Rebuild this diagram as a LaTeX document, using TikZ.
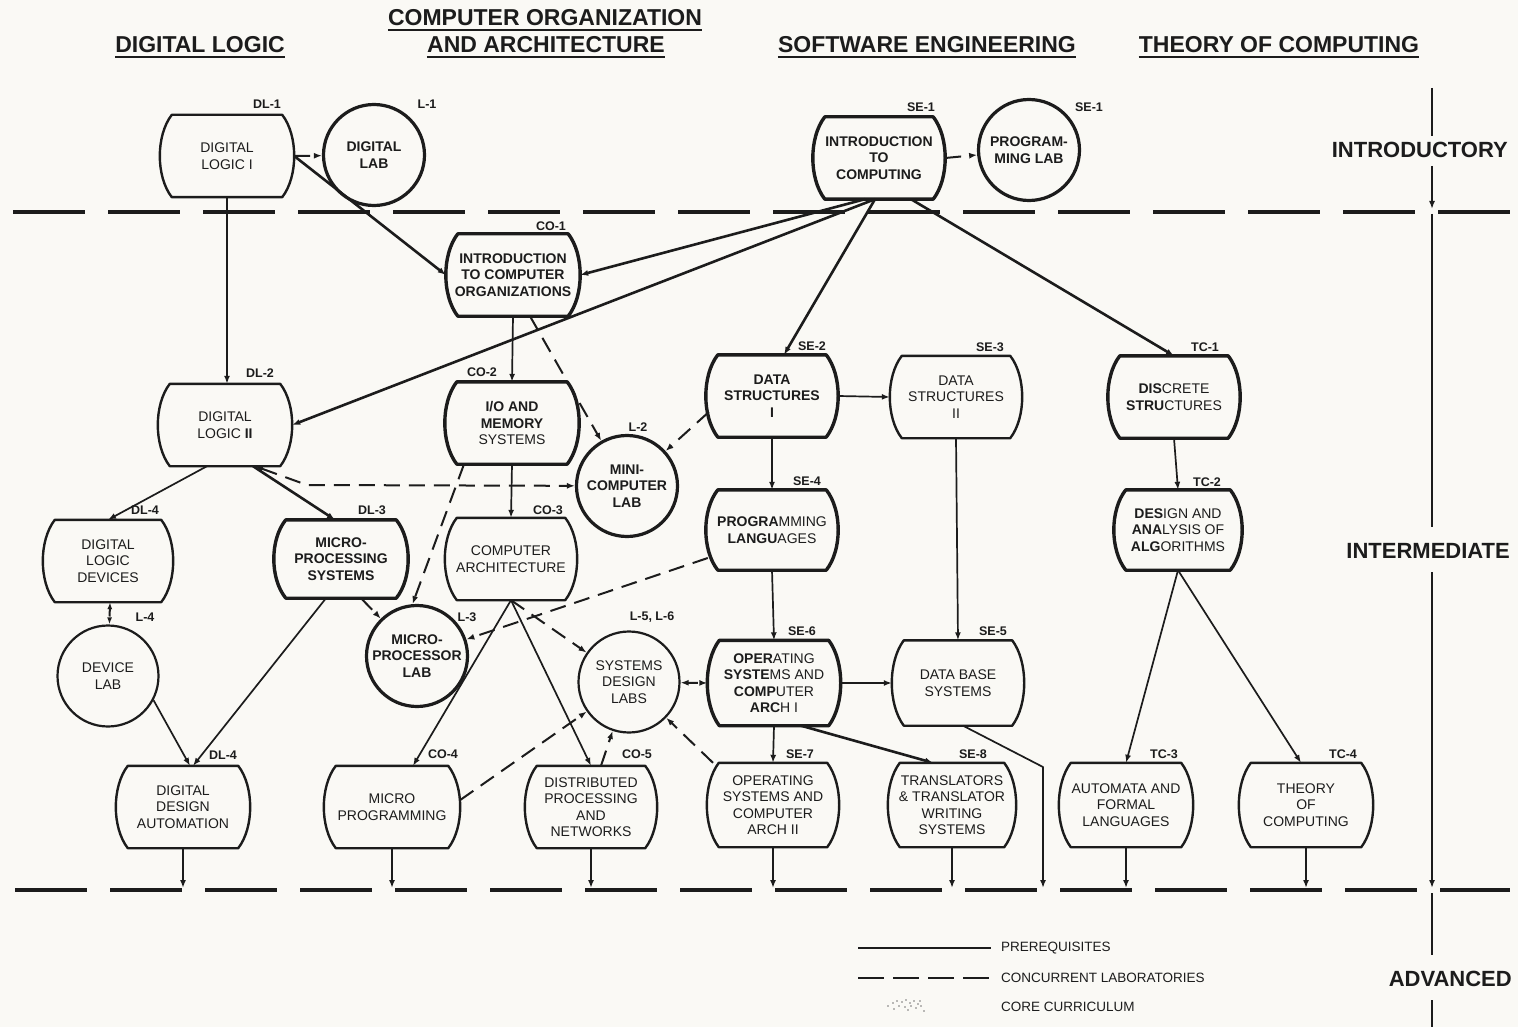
\documentclass[tikz,border=0pt]{standalone}
\usepackage{fontspec}
\setmainfont{Liberation Sans}
\usetikzlibrary{calc,arrows.meta}
\definecolor{ink}{RGB}{28,28,28}
\definecolor{paper}{RGB}{250,249,245}
\newcommand\barrelpath[1]{%
  ($(#1.north west)+(12,0)$) -- ($(#1.north east)+(-12,0)$)
  .. controls ($(#1.north east)!0.25!(#1.south east)+(4,0)$) and ($(#1.north east)!0.75!(#1.south east)+(4,0)$) .. ($(#1.south east)+(-12,0)$)
  -- ($(#1.south west)+(12,0)$)
  .. controls ($(#1.south west)!0.25!(#1.north west)+(-4,0)$) and ($(#1.south west)!0.75!(#1.north west)+(-4,0)$) .. ($(#1.north west)+(12,0)$) -- cycle}
\begin{document}
\begin{tikzpicture}[x=1pt,y=-1pt,line join=round,
  course/.style={rectangle, minimum width=134pt, minimum height=82pt, inner sep=0pt, align=center, text=ink, font=\fontsize{14}{16.5}\selectfont},
  bcourse/.style={course, font=\fontsize{14}{16.5}\selectfont\bfseries},
  labnode/.style={circle, draw=ink, line width=2.2pt, minimum size=101pt, inner sep=0pt, align=center, text=ink, font=\fontsize{14}{16.5}\selectfont},
  thicklab/.style={labnode, line width=3.2pt, font=\fontsize{14}{16.5}\selectfont\bfseries},
  idl/.style={inner sep=0pt, text=ink, font=\fontsize{12.5}{14}\selectfont\bfseries},
  pre/.style={draw=ink, line width=1.7pt, -{Latex[length=8pt,width=6pt]}},
  prethick/.style={pre, line width=2.6pt},
  conc/.style={draw=ink, line width=2pt, dash pattern=on 16pt off 9pt, -{Latex[length=8pt,width=6pt]}},
  sepline/.style={draw=ink, line width=3.4pt, dash pattern=on 72pt off 23pt},
  hdr/.style={inner sep=0pt, text=ink, font=\fontsize{23}{26}\selectfont\bfseries},
  lvl/.style={inner sep=0pt, text=ink, font=\fontsize{22}{26}\selectfont\bfseries},
  legendtext/.style={inner sep=0pt, text=ink, font=\fontsize{13.5}{16}\selectfont},
  lvline/.style={draw=ink, line width=2pt}
]
\fill[paper] (0,0) rectangle (1518,1027);
\useasboundingbox (0,0) rectangle (1518,1027);

% headers
\node[hdr, anchor=base] (h1) at (200,53) {DIGITAL LOGIC};
\node[hdr, anchor=base] (h2a) at (545,26) {COMPUTER ORGANIZATION};
\node[hdr, anchor=base] (h2b) at (546,53) {AND ARCHITECTURE};
\node[hdr, anchor=base] (h3) at (927,53) {SOFTWARE ENGINEERING};
\node[hdr, anchor=base] (h4) at (1279,53) {THEORY OF COMPUTING};
\foreach \h in {h1,h2a,h2b,h3,h4}
  \draw[ink, line width=2.6pt] ($(\h.base west)+(0,4)$) -- ($(\h.base east)+(0,4)$);

% level labels
\node[lvl, anchor=base east] (lv1) at (1508,158) {INTRODUCTORY};
\node[lvl, anchor=base east] (lv2) at (1510,558) {INTERMEDIATE};
\node[lvl, anchor=base east] (lv3) at (1512,986) {ADVANCED};

% separators
\draw[sepline] (13,212) -- (1510,212);
\draw[sepline] (15,890) -- (1510,890);

% level line
\coordinate (va) at (1432,88);
\coordinate (vb) at (1432,212);
\coordinate (vc) at (1432,888);
\draw[lvline] (va) -- (1432,136);
\draw[lvline, -{Latex[length=8pt,width=6pt]}] (1432,166) -- (1432,209);
\draw[lvline] (1432,214) -- (1432,527);
\draw[lvline, -{Latex[length=8pt,width=6pt]}] (1432,572) -- (vc);
\draw[lvline] (1432,893) -- (1432,955);
\draw[lvline] (1432,1000) -- (1432,1027);

% course nodes
\node[course] (dl1) at (227,156) {DIGITAL\\LOGIC I};
\node[thicklab] (l1) at (374,155) {DIGITAL\\LAB};
\node[bcourse, minimum width=132pt] (se1) at (879,158) {INTRODUCTION\\TO\\COMPUTING};
\node[thicklab] (plab) at (1029,150) {PROGRAM-\\MING LAB};
\node[bcourse] (co1) at (513,275) {INTRODUCTION\\TO COMPUTER\\ORGANIZATIONS};
\node[course] (dl2) at (225,425) {DIGITAL\\LOGIC {\bfseries II}};
\node[course] (co2) at (512,423) {{\bfseries I/O AND}\\{\bfseries MEMORY}\\SYSTEMS};
\node[bcourse, minimum width=132pt] (se2) at (772,396) {DATA\\STRUCTURES\\I};
\node[course, minimum width=132pt] (se3) at (956,397) {DATA\\STRUCTURES\\II};
\node[course, minimum width=132pt] (tc1) at (1174,397) {{\bfseries DIS}CRETE\\{\bfseries STRU}CTURES};
\node[thicklab] (l2) at (627,486) {MINI-\\COMPUTER\\LAB};
\node[course, minimum width=132pt, minimum height=80pt] (se4) at (772,530) {{\bfseries PROGRA}MMING\\{\bfseries LANGU}AGES};
\node[course, minimum width=128pt, minimum height=80pt] (tc2) at (1178,530) {{\bfseries DES}IGN AND\\{\bfseries ANA}LYSIS OF\\{\bfseries ALG}ORITHMS};
\node[course, minimum width=130pt] (dl4) at (108,561) {DIGITAL\\LOGIC\\DEVICES};
\node[bcourse, minimum height=78pt] (dl3) at (341,559) {MICRO-\\PROCESSING\\SYSTEMS};
\node[course, minimum width=132pt] (co3) at (511,559) {COMPUTER\\ARCHITECTURE};
\node[labnode] (dev) at (108,676) {DEVICE\\LAB};
\node[thicklab] (l3) at (417,656) {MICRO-\\PROCESSOR\\LAB};
\node[labnode] (sdl) at (629,682) {SYSTEMS\\DESIGN\\LABS};
\node[course, minimum width=133pt, minimum height=85pt] (se6) at (774,683) {{\bfseries OPER}ATING\\{\bfseries SYSTE}MS AND\\{\bfseries COMP}UTER\\{\bfseries ARC}H I};
\node[course, minimum width=132pt, minimum height=85pt] (se5) at (958,683) {DATA BASE\\SYSTEMS};
\node[course] (dda) at (183,807) {DIGITAL\\DESIGN\\AUTOMATION};
\node[course, minimum width=136pt] (co4) at (392,807) {MICRO\\PROGRAMMING};
\node[course, minimum width=132pt] (co5) at (591,807) {DISTRIBUTED\\PROCESSING\\AND\\NETWORKS};
\node[course, minimum width=132pt, minimum height=84pt] (se7) at (773,805) {OPERATING\\SYSTEMS AND\\COMPUTER\\ARCH II};
\node[course, minimum width=128pt, minimum height=84pt] (se8) at (952,805) {TRANSLATORS\\\&{} TRANSLATOR\\WRITING\\SYSTEMS};
\node[course, minimum width=134pt, minimum height=84pt] (tc3) at (1126,805) {AUTOMATA AND\\FORMAL\\LANGUAGES};
\node[course, minimum width=134pt, minimum height=84pt] (tc4) at (1306,805) {THEORY\\OF\\COMPUTING};

% barrel outlines
\foreach \n in {dl1,dl2,se3,dl4,co3,se5,dda,co4,co5,se7,se8,tc3,tc4}
  \draw[ink, line width=2.4pt] \barrelpath{\n};
\foreach \n in {se1,co1,co2,se2,tc1,se4,tc2,dl3,se6}
  \draw[ink, line width=3.4pt] \barrelpath{\n};

% id labels
\node[idl] (t-dl1) at (267,104) {DL-1};
\node[idl] (t-l1) at (427,104) {L-1};
\node[idl] (t-se1) at (921,107) {SE-1};
\node[idl] (t-plab) at (1089,107) {SE-1};
\node[idl] (t-co1) at (551,226) {CO-1};
\node[idl] (t-dl2) at (260,373) {DL-2};
\node[idl] (t-co2) at (482,372) {CO-2};
\node[idl] (t-se2) at (812,346) {SE-2};
\node[idl] (t-se3) at (990,347) {SE-3};
\node[idl] (t-tc1) at (1205,347) {TC-1};
\node[idl] (t-l2) at (638,427) {L-2};
\node[idl] (t-se4) at (807,481) {SE-4};
\node[idl] (t-tc2) at (1207,482) {TC-2};
\node[idl] (t-dl4) at (145,510) {DL-4};
\node[idl] (t-dl3) at (372,510) {DL-3};
\node[idl] (t-co3) at (548,510) {CO-3};
\node[idl] (t-l4) at (145,617) {L-4};
\node[idl] (t-l3) at (467,617) {L-3};
\node[idl] (t-sdl) at (652,617) {L-5, L-6};
\node[idl] (t-se6) at (802,631) {SE-6};
\node[idl] (t-se5) at (993,631) {SE-5};
\node[idl] (t-dda) at (223,755) {DL-4};
\node[idl] (t-co4) at (443,754) {CO-4};
\node[idl] (t-co5) at (637,754) {CO-5};
\node[idl] (t-se7) at (800,754) {SE-7};
\node[idl] (t-se8) at (973,754) {SE-8};
\node[idl] (t-tc3) at (1164,754) {TC-3};
\node[idl] (t-tc4) at (1343,754) {TC-4};

% prerequisites
\draw[pre] (dl1.south) -- (dl1.south |- dl2.north);
\draw[prethick] (dl1.east) -- (co1.west);
\draw[prethick] ([xshift=-14pt]se1.south) -- (co1.east);
\draw[prethick] ([xshift=-4pt]se1.south) -- (dl2.east);
\draw[prethick] ([xshift=-4pt]se1.south) -- ([xshift=12pt]se2.north);
\draw[prethick] ([xshift=32pt]se1.south) -- (tc1.north);
\draw[pre] (co1.south) -- (co2.north);
\draw[pre] (co2.south) -- (co3.north);
\draw[pre] ([xshift=-18pt]dl2.south) -- (dl4.north);
\draw[prethick] ([xshift=28pt]dl2.south) -- ([xshift=-6pt]dl3.north);
\draw[pre] (dev.-28) -- ([xshift=7pt]dda.north);
\draw[pre] ([xshift=-15pt]dl3.south) -- ([xshift=10pt]dda.north);
\draw[pre] (co3.south) -- ([xshift=21pt]co4.north);
\draw[pre] (co3.south) -- (co5.north);
\draw[pre] (se2.east) -- (se3.west);
\draw[pre] (se2.south) -- (se4.north);
\draw[pre] (se4.south) -- (se6.north);
\draw[pre] (se3.south) -- (se5.north);
\draw[pre] (se6.east) -- (se5.west);
\draw[pre] (se6.south) -- (se7.north);
\draw[prethick] ([xshift=27pt]se6.south) -- ([xshift=-19pt]se8.north);
\draw[pre] (tc1.south) -- (tc2.north);
\draw[pre] (tc2.south) -- (tc3.north);
\draw[pre] (tc2.south) -- ([xshift=-5pt]tc4.north);
\coordinate (knee) at (1043,767);
\coordinate (base) at (0,888);
\draw[pre] ([xshift=5pt]se5.south) -- (knee) -- (knee |- base);
\foreach \n in {dda,co4,co5,se7,se8,tc3,tc4}
  \draw[pre] (\n.south) -- (\n.south |- base);

% concurrent laboratories
\draw[conc] (dl1.east) -- (l1);
\draw[conc] (se1.east) -- (plab);
\coordinate (k1) at (307,485);
\draw[conc, {Latex[length=8pt,width=6pt]}-{Latex[length=8pt,width=6pt]}] ([xshift=30pt]dl2.south) -- (k1) -- (l2);
\draw[conc] ([xshift=17pt]co1.south) -- (l2);
\draw[conc] ([xshift=3pt,yshift=-16pt]se2.west) -- (l2);
\draw[conc, {Latex[length=7pt,width=5pt]}-{Latex[length=7pt,width=5pt]}, dash pattern=on 8pt off 4pt] ([xshift=2pt]dl4.south) -- (dev);
\draw[conc] ([xshift=20pt]dl3.south) -- (l3);
\draw[conc] ([xshift=-48pt]co2.south) -- (l3.95);
\draw[conc] ([xshift=2pt,yshift=-28pt]se4.west) -- (l3);
\draw[conc] (co3.south) -- (sdl);
\draw[conc] ([yshift=7pt]co4.east) -- (sdl);
\draw[conc] ([xshift=10pt]co5.north) -- (sdl);
\draw[conc] ([xshift=-60pt]se7.north) -- (sdl);
\draw[conc, {Latex[length=8pt,width=6pt]}-{Latex[length=8pt,width=6pt]}, dash pattern=on 10pt off 6pt] (sdl) -- (se6.west);

% legend
\node[legendtext, anchor=west] (lg1) at (1001,948) {PREREQUISITES};
\node[legendtext, anchor=west] (lg2) at (1001,978) {CONCURRENT LABORATORIES};
\node[legendtext, anchor=west] (lg3) at (1001,1007) {CORE CURRICULUM};
\coordinate (ls1) at (858,948);
\coordinate (ls2) at (858,978);
\draw[ink, line width=2.2pt] (ls1) -- ([xshift=-10pt]lg1.west);
\draw[ink, line width=2.2pt, dash pattern=on 26pt off 9pt] (ls2) -- ([xshift=-10pt]lg2.west);
\foreach \p in {(893,1003),(897,1001),(902,1002),(906,1000),(910,1003),(914,1001),(918,1004),(899,1006),(905,1007),(911,1006),(916,1008),(921,1006),(894,1009),(908,1010),(924,1011),(920,1001),(888,1006)}
  \fill[ink!60] \p circle (0.9);
\end{tikzpicture}
\end{document}
